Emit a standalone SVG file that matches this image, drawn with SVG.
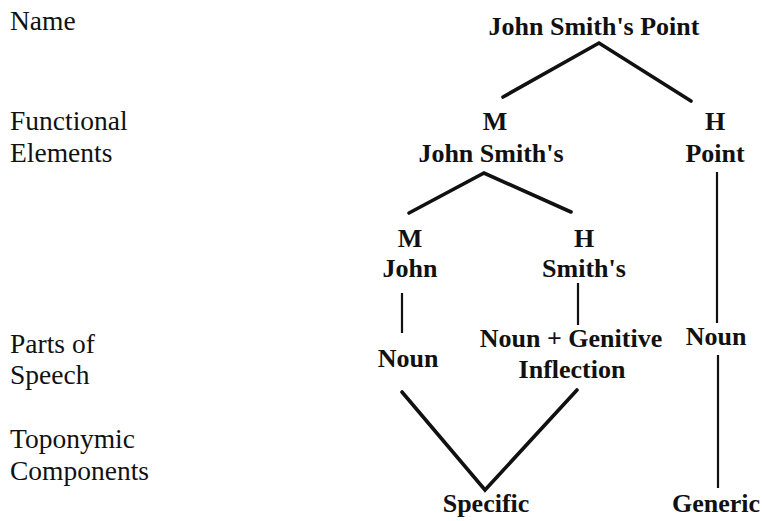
<svg xmlns="http://www.w3.org/2000/svg" width="762" height="521" viewBox="0 0 762 521">
  <style>
    .lbl { font-family: "Liberation Serif", "Times New Roman", serif; font-size: 27.5px; fill: #111; }
    .nd { font-family: "Liberation Serif", "Times New Roman", serif; font-size: 26px; font-weight: bold; fill: #111; text-anchor: middle; }
    .edge { stroke: #111; stroke-width: 3.6; fill: none; stroke-linecap: round; stroke-linejoin: miter; }
    .stem { stroke: #111; stroke-width: 2.2; fill: none; }
  </style>
  <rect width="762" height="521" fill="#fff"/>

  <!-- level labels on the left -->
  <g id="levels">
    <text class="lbl" x="10" y="30">Name</text>
    <text class="lbl" x="10" y="130">Functional</text>
    <text class="lbl" x="10" y="162">Elements</text>
    <text class="lbl" x="10" y="353">Parts of</text>
    <text class="lbl" x="10" y="384">Speech</text>
    <text class="lbl" x="10" y="448">Toponymic</text>
    <text class="lbl" x="10" y="480">Components</text>
  </g>

  <!-- connectors -->
  <g id="connectors">
    <polyline class="edge" points="503,97 599,43 691,101"/>
    <polyline class="edge" points="409,213 484,173 571,212"/>
    <line class="stem" x1="717" y1="172" x2="717" y2="323"/>
    <line class="stem" x1="402" y1="293" x2="402" y2="333" stroke-width="2.8"/>
    <line class="stem" x1="578" y1="283" x2="578" y2="325"/>
    <polyline class="edge" points="402,392 485,490 577,390"/>
    <line class="stem" x1="718" y1="355" x2="718" y2="488"/>
  </g>

  <!-- tree nodes -->
  <g id="n-name"><text class="nd" x="594" y="35">John Smith's Point</text></g>
  <g id="n-modifier">
    <text class="nd" x="495" y="130">M</text>
    <text class="nd" x="491" y="162">John Smith's</text>
  </g>
  <g id="n-head">
    <text class="nd" x="715" y="130">H</text>
    <text class="nd" x="715" y="162">Point</text>
  </g>
  <g id="n-john">
    <text class="nd" x="410" y="247">M</text>
    <text class="nd" x="410" y="277">John</text>
  </g>
  <g id="n-smiths">
    <text class="nd" x="584" y="247">H</text>
    <text class="nd" x="584" y="277">Smith's</text>
  </g>
  <g id="n-noun-left"><text class="nd" x="408" y="367">Noun</text></g>
  <g id="n-noun-gen">
    <text class="nd" x="571" y="347">Noun + Genitive</text>
    <text class="nd" x="572" y="378">Inflection</text>
  </g>
  <g id="n-noun-right"><text class="nd" x="716" y="345">Noun</text></g>
  <g id="n-specific"><text class="nd" x="486" y="512">Specific</text></g>
  <g id="n-generic"><text class="nd" x="716" y="512">Generic</text></g>
</svg>
